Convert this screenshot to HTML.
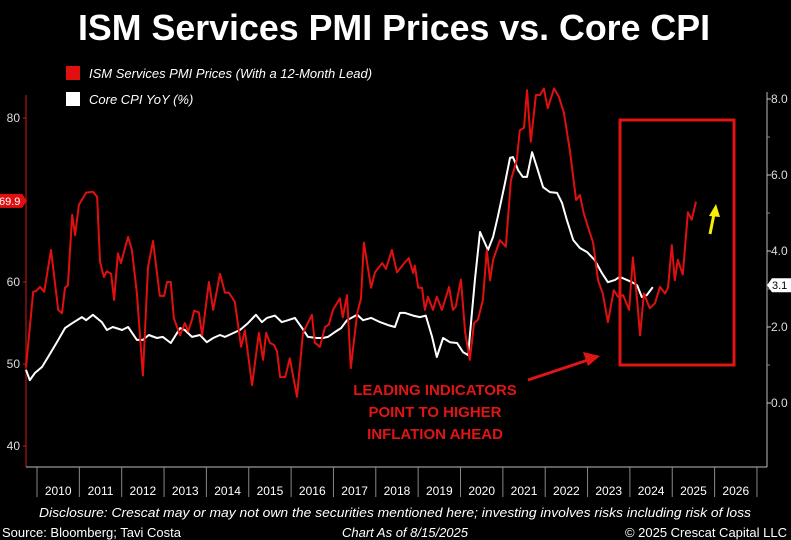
<!DOCTYPE html>
<html><head><meta charset="utf-8"><style>
html,body{margin:0;padding:0;background:#000;}
svg{display:block;font-family:"Liberation Sans",sans-serif;}
</style></head><body>
<svg id="chart" width="791" height="540" viewBox="0 0 791 540" xmlns="http://www.w3.org/2000/svg">
<rect width="791" height="540" fill="#000"/>
<text x="394" y="40" text-anchor="middle" fill="#fff" font-size="36" font-weight="bold" textLength="632" lengthAdjust="spacingAndGlyphs">ISM Services PMI Prices vs. Core CPI</text>
<rect x="66" y="66" width="14" height="14" fill="#e01010"/>
<text x="89" y="78" fill="#fff" font-size="13" font-style="italic">ISM Services PMI Prices (With a 12-Month Lead)</text>
<rect x="66" y="92" width="14" height="14" fill="#fff"/>
<text x="89" y="104" fill="#fff" font-size="13" font-style="italic">Core CPI YoY (%)</text>
<g id="axes"></g>
<g id="series"></g>
<rect x="620" y="120" width="114" height="245" fill="none" stroke="#e01515" stroke-width="3"/>
<line x1="528" y1="380" x2="588" y2="360" stroke="#e01515" stroke-width="3"/>
<polygon points="600,356 583,352 588,366" fill="#e01515"/>
<line x1="710" y1="234" x2="714" y2="214" stroke="#f5f000" stroke-width="3"/>
<polygon points="716,204 709,216 720,217" fill="#f5f000"/>
<g fill="#e01515" font-size="15" font-weight="bold" text-anchor="middle">
<text x="435" y="395">LEADING INDICATORS</text>
<text x="435" y="417">POINT TO HIGHER</text>
<text x="435" y="439">INFLATION AHEAD</text>
</g>
<text x="395" y="517" text-anchor="middle" fill="#fff" font-size="13" font-style="italic" textLength="712" lengthAdjust="spacingAndGlyphs">Disclosure: Crescat may or may not own the securities mentioned here; investing involves risks including risk of loss</text>
<text x="2" y="537" fill="#fff" font-size="13">Source: Bloomberg; Tavi Costa</text>
<text x="405" y="537" text-anchor="middle" fill="#fff" font-size="13" font-style="italic">Chart As of 8/15/2025</text>
<text x="787" y="537" text-anchor="end" fill="#fff" font-size="13">© 2025 Crescat Capital LLC</text>
</svg>
<script>
const years=[2010,2011,2012,2013,2014,2015,2016,2017,2018,2019,2020,2021,2022,2023,2024,2025,2026];
const leftTicks=[40,50,60,80];
const rightTicks=[0,2,4,6,8];
const ismDates=[2009.74,2009.91,2009.98,2010.07,2010.17,2010.33,2010.50,2010.59,2010.66,2010.73,
2010.83,2010.90,2010.99,2011.16,2011.32,2011.42,2011.49,2011.58,2011.65,2011.75,
2011.82,2011.91,2011.98,2012.15,2012.24,2012.36,2012.50,2012.62,2012.74,2012.90,
2013.00,2013.07,2013.16,2013.23,2013.38,2013.49,2013.57,2013.66,2013.71,2013.82,
2013.90,2014.06,2014.16,2014.32,2014.44,2014.53,2014.67,2014.82,2014.91,2015.08,
2015.24,2015.34,2015.41,2015.50,2015.60,2015.67,2015.74,2015.86,2015.97,2016.14,
2016.28,2016.49,2016.56,2016.68,2016.80,2016.89,2016.99,2017.15,2017.22,2017.32,
2017.41,2017.56,2017.65,2017.72,2017.89,2017.98,2018.15,2018.24,2018.38,2018.50,
2018.69,2018.78,2018.88,2018.92,2019.00,2019.09,2019.16,2019.23,2019.35,2019.44,
2019.56,2019.73,2019.82,2019.89,2020.01,2020.11,2020.22,2020.32,2020.41,2020.53,
2020.62,2020.70,2020.77,2020.93,2021.07,2021.19,2021.33,2021.40,2021.50,2021.57,
2021.66,2021.78,2021.88,2021.97,2022.06,2022.21,2022.32,2022.44,2022.58,2022.73,
2022.82,2022.91,2023.01,2023.13,2023.25,2023.36,2023.48,2023.62,2023.72,2023.84,
2023.98,2024.07,2024.17,2024.24,2024.33,2024.47,2024.59,2024.71,2024.83,2024.90,
2024.99,2025.06,2025.13,2025.25,2025.37,2025.46,2025.56];
const ismValues=[49.6,58.8,58.9,59.4,58.8,63.9,56.6,56.2,59.3,59.6,
68.2,65.7,69.4,70.9,71.0,70.4,62.4,60.6,61.3,61.0,
57.8,63.5,62.3,65.5,63.9,58.6,48.6,61.8,65.0,58.3,
58.3,60.0,60.0,55.6,53.5,55.0,54.0,55.4,56.5,56.3,
53.5,60.0,56.6,61.0,58.7,58.7,57.6,52.1,54.1,47.4,
53.8,50.5,53.8,52.6,52.3,51.5,48.4,48.4,50.7,46.0,
53.8,56.0,52.6,52.1,54.5,54.8,56.6,58.0,55.7,58.4,
49.5,56.2,58.0,64.8,59.3,61.2,62.3,61.6,63.9,61.2,
62.4,62.9,61.1,62.0,59.3,59.3,56.6,58.2,56.6,58.2,
56.6,59.4,56.6,57.0,60.3,53.8,50.5,55.0,55.4,57.8,
63.9,60.2,62.7,65.1,64.3,72.4,74.9,78.5,78.8,83.4,
77.1,82.8,82.8,83.6,81.2,83.6,82.6,80.7,76.1,70.0,
70.6,68.4,66.7,64.8,60.2,58.6,55.1,59.0,58.2,58.4,
56.6,63.0,57.8,53.5,58.6,56.8,57.4,59.4,58.6,59.3,
64.5,60.2,62.7,60.9,68.5,67.6,69.8];
const cpiDates=[2009.74,2009.83,2009.95,2010.12,2010.31,2010.47,2010.66,2010.83,2011.06,2011.16,
2011.32,2011.53,2011.65,2011.79,2012.01,2012.15,2012.36,2012.50,2012.64,2012.83,
2012.97,2013.16,2013.38,2013.49,2013.66,2013.85,2014.01,2014.16,2014.32,2014.44,
2014.63,2014.79,2014.98,2015.17,2015.31,2015.43,2015.62,2015.78,2015.93,2016.09,
2016.26,2016.40,2016.61,2016.75,2016.87,2017.04,2017.18,2017.32,2017.56,2017.70,
2017.89,2018.10,2018.29,2018.45,2018.57,2018.69,2018.88,2019.04,2019.18,2019.33,
2019.44,2019.59,2019.75,2019.92,2020.06,2020.18,2020.34,2020.46,2020.65,2020.77,
2020.88,2021.05,2021.17,2021.24,2021.36,2021.47,2021.57,2021.69,2021.81,2021.95,
2022.11,2022.28,2022.40,2022.51,2022.66,2022.82,2022.99,2023.17,2023.34,2023.48,
2023.65,2023.76,2023.93,2024.05,2024.17,2024.28,2024.40,2024.54];
const cpiValues=[0.87,0.6,0.79,0.95,1.3,1.6,1.97,2.1,2.26,2.18,
2.32,2.13,1.92,2.0,1.92,2.0,1.66,1.66,1.79,1.71,
1.74,1.58,1.97,1.92,1.74,1.79,1.6,1.71,1.79,1.74,
1.84,1.92,2.1,2.32,2.13,2.24,2.3,2.13,2.18,2.24,
1.97,1.74,1.71,1.71,1.74,1.87,1.97,2.18,2.32,2.18,
2.24,2.13,2.05,2.0,2.37,2.37,2.3,2.26,2.3,1.74,
1.21,1.71,1.6,1.58,1.34,1.26,3.24,4.5,4.03,4.37,
4.9,5.79,6.45,6.47,6.13,5.95,5.95,6.6,6.18,5.68,
5.55,5.53,5.26,4.82,4.29,4.08,3.97,3.76,3.42,3.18,
3.24,3.32,3.24,3.18,3.1,2.79,2.84,3.05];
const ismLast=69.9, cpiLast=3.1;

const NS="http://www.w3.org/2000/svg";
const X0=37, YW=42.35;
function xScale(t){return X0+(t-2010)*YW;}
function yLeft(v){return 118+(80-v)*8.2;}
function yRight(v){return 403-v*38;}
function mk(tag,attrs,parent){const e=document.createElementNS(NS,tag);for(const k in attrs)e.setAttribute(k,attrs[k]);parent.appendChild(e);return e;}
const axes=document.getElementById('axes'), series=document.getElementById('series');

let el=mk('line',{x1:26,y1:95,x2:26,y2:467,stroke:'#8a1010','stroke-width':1.5},axes);


el=mk('line',{x1:767,y1:92,x2:767,y2:467,stroke:'#bbb','stroke-width':1},axes);


el=mk('line',{x1:26,y1:467,x2:767,y2:467,stroke:'#bbb','stroke-width':1},axes);



leftTicks.forEach(v=>{
  const y=yLeft(v);
  mk('line',{x1:23,y1:y,x2:26,y2:y,stroke:'#e01515'},axes);
  const t=mk('text',{x:20,y:y+4,fill:'#ddd','font-size':12,'text-anchor':'end'},axes);
  t.textContent=v;
  
  
});
rightTicks.forEach(v=>{
  const y=yRight(v);
  mk('line',{x1:767,y1:y,x2:771,y2:y,stroke:'#ccc'},axes);
  if(v<8) mk('line',{x1:767,y1:yRight(v+1),x2:770,y2:yRight(v+1),stroke:'#888'},axes);
  const t=mk('text',{x:771,y:y+4,fill:'#ddd','font-size':12},axes);
  t.textContent=v.toFixed(1);
  
  
});
years.forEach(yr=>{
  const x=xScale(yr);
  mk('line',{x1:x,y1:467,x2:x,y2:497,stroke:'#888'},axes);
  const t=mk('text',{x:x+YW/2,y:495,fill:'#fff','font-size':12,'text-anchor':'middle'},axes);
  t.textContent=yr;
  
  
});
mk('line',{x1:xScale(2027),y1:467,x2:xScale(2027),y2:497,stroke:'#888'},axes);

function path(dates,vals,ys){return dates.map((d,i)=>(i?'L':'M')+xScale(d).toFixed(1)+','+ys(vals[i]).toFixed(1)).join('');}
el=mk('path',{d:path(cpiDates,cpiValues,yRight),fill:'none',stroke:'#fff','stroke-width':2,'stroke-linejoin':'round'},series);


el=mk('path',{d:path(ismDates,ismValues,yLeft),fill:'none',stroke:'#e01010','stroke-width':2,'stroke-linejoin':'round'},series);



let yb=yLeft(ismLast);
el=mk('polygon',{points:`0,${yb-7} 22,${yb-7} 27,${yb} 22,${yb+7} 0,${yb+7}`,fill:'#e01010'},axes);


el=mk('text',{x:-1,y:yb+4,fill:'#fff','font-size':11},axes);
el.textContent=ismLast.toFixed(1);


yb=yRight(cpiLast);
el=mk('polygon',{points:`767,${yb} 772,${yb-7} 791,${yb-7} 791,${yb+7} 772,${yb+7}`,fill:'#fff'},axes);


el=mk('text',{x:772,y:yb+4,fill:'#000','font-size':11},axes);
el.textContent=cpiLast.toFixed(1);


</script>
</body></html>
